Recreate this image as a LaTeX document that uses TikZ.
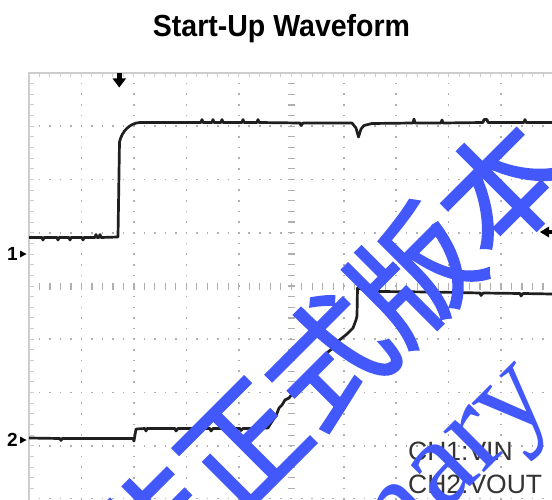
\documentclass[tikz,border=0pt]{standalone}
\usepackage{fontspec}
\usepackage{xcolor}
\setmainfont{Liberation Sans}
\newfontfamily\cjkfont[FakeBold=2]{Noto Sans CJK SC}
\newfontfamily\wmserif{Liberation Serif}
\definecolor{wmblue}{RGB}{66,88,250}
\definecolor{framegray}{RGB}{205,205,205}
\definecolor{dotgray}{RGB}{175,175,175}

\begin{document}
\begin{tikzpicture}[x=1pt, y=-1pt,
    trace/.style={line width=2.7pt, line join=round, black!88},
    frameline/.style={framegray, line width=1.3pt},
    dotline/.style={dotgray, line width=1.6pt},
    tickline/.style={dotgray, line width=1.2pt},
    chlabel/.style={anchor=base west, inner sep=0, text=black!80, font=\fontsize{26.5}{30}\selectfont},
    chmark/.style={inner sep=0, font=\bfseries\fontsize{19}{19}\selectfont},
    watermark/.style={rotate=45, inner sep=0, text=wmblue}]
          \fill[white] (0,0) rectangle (552,500);
          \useasboundingbox (0,0) rectangle (552,500);
          \clip (0,0) rectangle (552,500);

          \node[anchor=base, inner sep=0, font=\bfseries\fontsize{30.5}{32}\selectfont] (title) at (281.5,37) {\scalebox{0.935}[1]{Start-Up Waveform}};

          \foreach \k in {1,2,3,5,6,7}
            \draw[dotline, dash pattern=on 1.6pt off 8.89pt] (28.2,73+\k*53.25) -- (553.5,73+\k*53.25);
          \draw[dotline, dash pattern=on 1.6pt off 8.89pt] (28.2,498.5) -- (553.5,498.5);
          \foreach \k in {1,2,3,4,6,7,8,9}
            \draw[dotline, dash pattern=on 1.6pt off 9.05pt] (29+\k*52.45,72.2) -- (29+\k*52.45,500);

          \foreach \j in {1,...,49}
            \draw[tickline] (29+\j*10.49,282.5) -- (29+\j*10.49,289.5);
          \foreach \j in {1,...,39}
            \draw[tickline] (287.8,73+\j*10.65) -- (294.7,73+\j*10.65);

          \draw[frameline] (29,500) -- (29,73) -- (553.5,73);
          \foreach \j in {1,...,49}
            \draw[frameline, line width=1pt] (29+\j*10.49,73) -- ++(0,4.5);
          \foreach \j in {1,...,39}
            \draw[frameline, line width=1pt] (29,73+\j*10.65) -- ++(5,0);

          \draw[trace] (29,237.5) -- (42,237.5) -- (43,240) -- (44,237.5) -- (57,237.5) -- (58,240) -- (59,237.5)
            -- (69,237.5) -- (70,240) -- (71,237.5) -- (82,237.5) -- (83,240) -- (84,237.5) -- (95,237.5)
            -- (96,234.5) -- (97,237.5) -- (99,237.5) -- (100,234.5) -- (101,237.5) -- (118,237)
            -- (119.5,142) .. controls (122,131) and (130,123) .. (140,122.5)
            -- (201,122.5) -- (202,119.5) -- (203,122.5) -- (212,122.5) -- (213,119.5) -- (214,122.5)
            -- (221,122.5) -- (222,119.5) -- (223,122.5) -- (242,122.5) -- (243,119.5) -- (244,122.5)
            -- (257,122.5) -- (258,119.5) -- (259,122.5) -- (300,123) -- (301,125.5) -- (303,123) -- (320,123)
            -- (352,123) -- (356,128) -- (358.5,137) -- (361,129) -- (364,125.5) -- (372,123.5)
            -- (413,123) -- (414,119) -- (415,123) -- (441,123) -- (442,120) -- (443,123)
            -- (483,122.5) -- (484,119.5) -- (487,119.5) -- (488,122.5) -- (524,122.5) -- (525,119.5)
            -- (526,122.5) -- (552,122.5);

          \draw[trace] (29,438) -- (60,438.5) -- (61,440.5) -- (62,438.5) -- (100,438.5) -- (133,438.5)
            -- (134,441) -- (136,429) -- (145,428.5) -- (146,431) -- (147,428.5) -- (175,428.5)
            -- (176,431) -- (178,428.5) -- (210,428.5) -- (211,431) -- (213,428.5) -- (240,428.5)
            -- (241,430.5) -- (243,428.5) -- (268,428)
            -- (271,423) -- (273,420) -- (276,416) -- (279,408) -- (282,405) -- (285,400) -- (289,398)
            -- (292,394) -- (296,391) -- (300,386) -- (303,383) -- (307,377) -- (311,374) -- (317,367)
            -- (321,363) -- (324,357) -- (328,352) -- (333,348) -- (337,342) -- (342,338) -- (347,334)
            -- (353,328) -- (356,320) -- (357,316) -- (357.5,288) -- (363,289.5) -- (380,291.5)
            -- (430,292) -- (431,294.5) -- (433,292) -- (480,293) -- (481,295.5) -- (483,293)
            -- (520,293.5) -- (521,296) -- (523,293.5) -- (552,294);

          \node[chmark] (ch1mark) at (12.5,254) {1};
          \fill (20,250.5) -- (26.5,254) -- (20,257.5) -- cycle;
          \node[chmark] (ch2mark) at (12.5,440) {2};
          \fill (20,436.5) -- (26.5,440) -- (20,443.5) -- cycle;

          \fill (117,73) rectangle (121.5,79);
          \fill (112.5,78.5) -- (126,78.5) -- (119.25,87.5) -- cycle;
          \fill (540,232) -- (549,226.5) -- (549,237.5) -- cycle;
          \fill (548,230) rectangle (552,234);

          \node[chlabel] (ch1lbl) at (408,460) {CH1:VIN};
          \node[chlabel] (ch2lbl) at (408,493) {CH2:VOUT};

          \node[watermark, font=\cjkfont\fontsize{122}{122}\selectfont] (wmcn) at (328,360) {非正式版本};
          \node[watermark, anchor=base east, font=\wmserif\fontsize{125}{125}\selectfont] (wmen) at (556,401) {Preliminary};
        \end{tikzpicture}
\end{document}
